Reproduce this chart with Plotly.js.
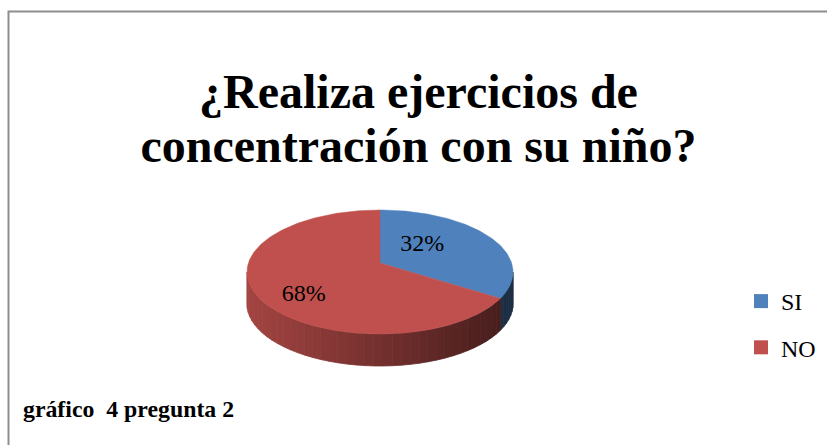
<!DOCTYPE html>
<html>
<head>
<meta charset="utf-8">
<script src="https://cdn.plot.ly/plotly-3.0.1.min.js"></script>
<style>html,body{margin:0;padding:0;background:#fff;}#chart{width:827px;height:445px;}</style>
</head>
<body>
<div id="chart"></div>
<script>
// ---- data ----
const categories = ['SI', 'NO'];
const values = [32, 68];
const sliceColors = ['#4F81BD', '#C0504D'];
const titleLines = ['¿Realiza ejercicios de', 'concentración con su niño?'];
const footerText = 'gráfico\u00a0 4 pregunta 2';

// ---- geometry / style (pixel space) ----
const W = 827, H = 445;
const CX = 380, CY = 272, RX = 133, RY = 62, DEPTH = 32, APEX_DY = -9;
const LABEL_FX = 0.527, LABEL_FY = 0.753, LABEL_DX = -17, LABEL_DY = -2;
const SERIF = 'Liberation Serif, Times New Roman, serif';

function hexToRgb(h) { const n = parseInt(h.slice(1), 16); return [(n >> 16) & 255, (n >> 8) & 255, n & 255]; }
function pt(tDeg, dy) { const r = tDeg * Math.PI / 180; return [CX + RX * Math.cos(r), CY + RY * Math.sin(r) + (dy || 0)]; }
function arc(t1, t2, dy) {
  const pts = []; const n = Math.max(2, Math.ceil(Math.abs(t2 - t1)));
  for (let i = 0; i <= n; i++) pts.push(pt(t1 + (t2 - t1) * i / n, dy));
  return pts;
}

const total = values.reduce((a, b) => a + b, 0);
const sideTraces = [], topTraces = [], labelX = [], labelY = [], labelText = [];
let cum = 0;
values.forEach((v, i) => {
  const th1 = cum / total * 360, th2 = (cum + v) / total * 360; cum += v;
  const t1 = th1 - 90, t2 = th2 - 90;
  const base = hexToRgb(sliceColors[i]);
  // visible side (front half, t in [0,180])
  const a = Math.max(t1, 0), b = Math.min(t2, 180);
  if (a < b) {
    const nStrips = Math.max(1, Math.ceil((b - a) / 4));
    for (let s = 0; s < nStrips; s++) {
      const s0 = a + (b - a) * s / nStrips, s1 = a + (b - a) * (s + 1) / nStrips;
      const top = arc(s0, s1, 0), bot = arc(s1, s0, DEPTH);
      const poly = top.concat(bot); poly.push(top[0]);
      const xm = pt((s0 + s1) / 2)[0];
      const f = (xm - (CX - RX)) / (2 * RX);
      const k = 0.85 - 0.5 * f;
      const col = 'rgb(' + base.map(c => Math.round(c * k)).join(',') + ')';
      sideTraces.push({
        type: 'scatter', mode: 'lines', x: poly.map(p => p[0]), y: poly.map(p => p[1]),
        fill: 'toself', fillcolor: col, line: { color: col, width: 0.8 },
        hoverinfo: 'skip', showlegend: false
      });
    }
  }
  // top face
  const ap = [CX, CY + APEX_DY];
  const poly = [ap].concat(arc(t1, t2, 0)); poly.push(ap);
  topTraces.push({
    type: 'scatter', mode: 'lines', x: poly.map(p => p[0]), y: poly.map(p => p[1]),
    fill: 'toself', fillcolor: sliceColors[i], line: { color: sliceColors[i], width: 0.5 },
    hoverinfo: 'skip', showlegend: false
  });
  // label
  const tm = (t1 + t2) / 2 * Math.PI / 180;
  labelX.push(CX + LABEL_DX + RX * LABEL_FX * Math.cos(tm));
  labelY.push(CY + LABEL_DY + RY * LABEL_FY * Math.sin(tm));
  labelText.push(Math.round(v / total * 100) + '%');
});

const labelTrace = {
  type: 'scatter', mode: 'text', x: labelX, y: labelY, text: labelText,
  textfont: { family: SERIF, size: 24, color: '#000' }, hoverinfo: 'skip', showlegend: false
};

const legendTraces = categories.map((c, i) => ({
  type: 'scatter', mode: 'markers', x: [null], y: [null], name: c, legendgroup: c,
  marker: { symbol: 'square', size: 14, color: sliceColors[i] }, hoverinfo: 'skip'
}));

const layout = {
  width: W, height: H,
  margin: { l: 0, r: 0, t: 0, b: 0 },
  paper_bgcolor: '#fff', plot_bgcolor: '#fff',
  xaxis: { range: [0, W], visible: false, fixedrange: true },
  yaxis: { range: [H, 0], visible: false, fixedrange: true },
  title: {
    text: titleLines.map(l => '<span style="font-size:48px">' + l + '</span>').join('<br>'),
    font: { family: SERIF, size: 41.5, color: '#000', weight: 'bold' },
    x: 0.506, xanchor: 'center', yref: 'container', y: 0.757, yanchor: 'top'
  },
  showlegend: true,
  legend: {
    x: 0.896, xanchor: 'left', y: 0.373, yanchor: 'top', traceorder: 'grouped', tracegroupgap: 12,
    font: { family: SERIF, size: 24, color: '#000' }, bgcolor: 'rgba(0,0,0,0)', itemclick: false, itemdoubleclick: false
  },
  annotations: [{
    text: '<b>' + footerText + '</b>', xref: 'x', yref: 'y', x: 21, y: 409, xanchor: 'left', yanchor: 'middle',
    showarrow: false, font: { family: SERIF, size: 23.8, color: '#000' }
  }],
  shapes: [{
    type: 'rect', xref: 'x', yref: 'y', x0: 8.5, y0: 11.5, x1: 900, y1: 500,
    line: { color: '#8e8e8e', width: 2 }, fillcolor: 'rgba(0,0,0,0)', layer: 'below'
  }]
};

Plotly.newPlot('chart', sideTraces.concat(topTraces, [labelTrace], legendTraces), layout, { staticPlot: true, displayModeBar: false });
</script>
</body>
</html>
